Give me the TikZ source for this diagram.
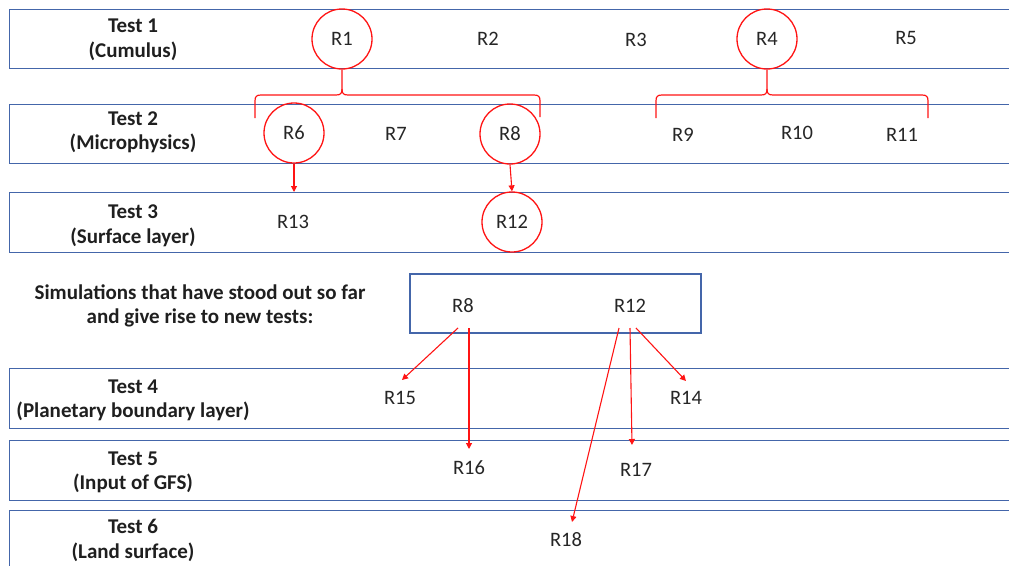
\documentclass[tikz,border=0pt]{standalone}
\usepackage{fontspec}
\setmainfont{Carlito}
\usetikzlibrary{arrows.meta}
\definecolor{bandblue}{RGB}{68,102,170}
\definecolor{myred}{RGB}{255,20,20}
\tikzset{
  band/.style={draw=bandblue, line width=1.3pt, minimum width=1020pt, anchor=north west, inner sep=0pt},
  testlbl/.style={font=\fontsize{21}{24.5}\selectfont\bfseries, align=center, text=black!88},
  rlbl/.style={font=\fontsize{20.5}{22}\selectfont, text=black!85, inner sep=0pt},
  rcirc/.style={rlbl, circle, draw=myred, line width=1.3pt, minimum size=60pt},
  redline/.style={draw=myred, line width=1.2pt},
  redarrow/.style={draw=myred, line width=1.1pt, -{Triangle[length=6pt,width=6pt]}},
}
\begin{document}
\begin{tikzpicture}[x=1pt,y=-1pt]
\useasboundingbox (0,0) rectangle (1009,565);
\clip (0,0) rectangle (1009,565);
% bands
\node[band, minimum height=59pt] (b1) at (9,9) {};
\node[band, minimum height=59pt] (b2) at (9,104) {};
\node[band, minimum height=60pt] (b3) at (9,192) {};
\node[band, minimum height=60pt] (b4) at (9,368) {};
\node[band, minimum height=60pt] (b5) at (9,440) {};
\node[band, minimum height=80pt] (b6) at (9,510) {};
\node[draw=bandblue, line width=1.3pt, minimum width=291pt, minimum height=59pt, inner sep=0pt] (box) at (555.5,303.5) {};
% test labels
\node[testlbl] (t1) at (133,40) {Test 1\\(Cumulus)};
\node[testlbl] (t2) at (133,132.5) {Test 2\\(Microphysics)};
\node[testlbl] (t3) at (133,226) {Test 3\\(Surface layer)};
\node[testlbl] (sim) at (200,306) {Simulations that have stood out so far\\and give rise to new tests:};
\node[testlbl] (t4) at (133,400.5) {Test 4\\(Planetary boundary layer)};
\node[testlbl] (t5) at (133,472.5) {Test 5\\(Input of GFS)};
\node[testlbl] (t6) at (133,540.5) {Test 6\\(Land surface)};
% R labels row 1
\node[rcirc] (r1) at (342,39) {R1};
\node[rlbl] (r2) at (488,39) {R2};
\node[rlbl] (r3) at (636,40) {R3};
\node[rcirc] (r4) at (767,39) {R4};
\node[rlbl] (r5) at (906,38) {R5};
% row 2
\node[rcirc] (r6) at (294,133) {R6};
\node[rlbl] (r7) at (396,134) {R7};
\node[rcirc] (r8) at (510,134) {R8};
\node[rlbl] (r9) at (683,135) {R9};
\node[rlbl] (r10) at (797,133) {R10};
\node[rlbl] (r11) at (902,135) {R11};
% row 3
\node[rlbl] (r13) at (293,222) {R13};
\node[rcirc] (r12) at (512,222) {R12};
% box
\node[rlbl] (br8) at (463,306) {R8};
\node[rlbl] (br12) at (630,306) {R12};
% rows 4-6
\node[rlbl] (r15) at (400,398) {R15};
\node[rlbl] (r14) at (686,398) {R14};
\node[rlbl] (r16) at (469,468) {R16};
\node[rlbl] (r17) at (636,470) {R17};
\node[rlbl] (r18) at (566,540) {R18};
% braces
\coordinate (bl1) at (255,118);
\coordinate (br1) at (540,117);
\draw[redline] (bl1) -- (255,101) .. controls (255,96.5) and (256.5,95) .. (261,95) -- (336,95)
  .. controls (340.5,95) and (342,93.5) .. (342,89) -- (r1.south);
\draw[redline] (br1) -- (540,101) .. controls (540,96.5) and (538.5,95) .. (534,95) -- (348,95)
  .. controls (343.5,95) and (342,93.5) .. (342,89);
\coordinate (bl2) at (656,118);
\coordinate (br2) at (928,118);
\draw[redline] (bl2) -- (656,101) .. controls (656,96.5) and (657.5,95) .. (662,95) -- (761,95)
  .. controls (765.5,95) and (767,93.5) .. (767,89) -- (r4.south);
\draw[redline] (br2) -- (928,101) .. controls (928,96.5) and (926.5,95) .. (922,95) -- (773,95)
  .. controls (768.5,95) and (767,93.5) .. (767,89);
% arrows
\coordinate (a6) at (294,192);
\draw[redarrow] (r6.south) -- (a6);
\draw[redarrow] (r8.south) -- (r12.north);
\coordinate (s1) at (458,328);
\coordinate (e15) at (402,380);
\draw[redarrow] (s1) -- (e15);
\coordinate (s2) at (469,328);
\coordinate (e16) at (469,449);
\draw[redarrow] (s2) -- (e16);
\coordinate (s3) at (619,328);
\coordinate (e18) at (572,522);
\draw[redarrow] (s3) -- (e18);
\coordinate (s4) at (630,328);
\coordinate (e17) at (632,445);
\draw[redarrow] (s4) -- (e17);
\coordinate (s5) at (636,328);
\coordinate (e14) at (686,381);
\draw[redarrow] (s5) -- (e14);
\end{tikzpicture}
\end{document}
